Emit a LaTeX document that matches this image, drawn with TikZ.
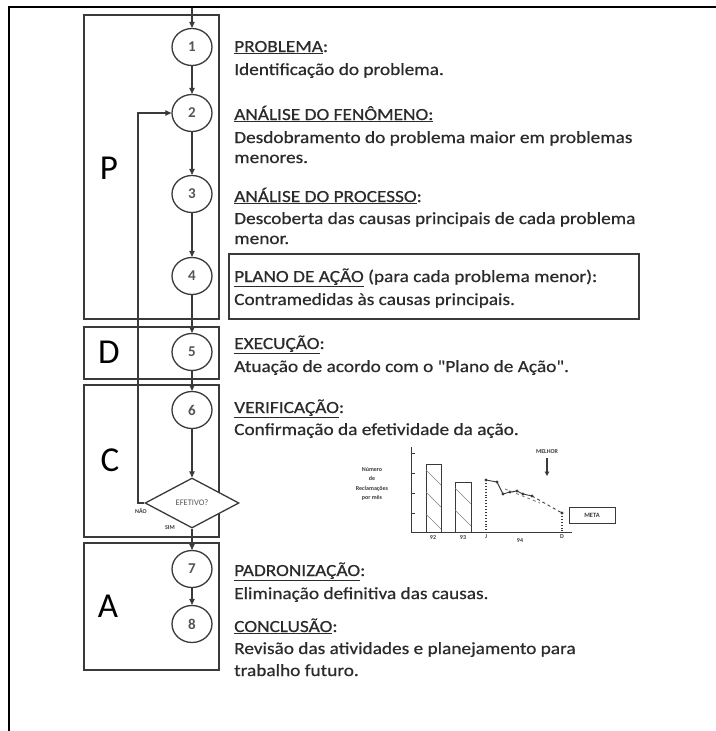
\documentclass[tikz,border=0pt]{standalone}
\usepackage{fontspec}
\setmainfont{Carlito}
\newfontfamily\bodyfont{Carlito}[FakeBold=0.6]
\usetikzlibrary{shapes.geometric,arrows.meta}
\definecolor{ink}{HTML}{3A3A3A}
\definecolor{txt}{HTML}{2B2B2B}
\definecolor{numc}{HTML}{555555}
\begin{document}
\begin{tikzpicture}[x=1pt,y=-1pt,
  stage/.style={draw=ink,line width=1.3pt,ellipse,minimum width=40pt,minimum height=37pt,inner sep=0pt,
    font=\fontsize{15}{15}\selectfont\bfseries,text=numc,fill=white},
  phasebox/.style={draw=ink,line width=1.3pt},
  flow/.style={draw=ink,line width=1.1pt,-{Triangle[length=6pt,width=5.5pt]}},
  body/.style={anchor=base west,inner sep=0pt,font=\bodyfont\fontsize{17}{17}\selectfont,text=txt,xscale=1.135},
  bigletter/.style={inner sep=0pt,font=\fontsize{35}{35}\selectfont,text=black},
  tiny/.style={inner sep=0pt,font=\fontsize{6}{6}\selectfont\bfseries,text=ink},
  chartline/.style={draw=ink,line width=0.9pt},
]
\useasboundingbox (0,0) rectangle (715,731);
% outer frame
\draw[line width=2.6pt,black] (9,731) -- (9,7) -- (716,7);

% phase boxes
\draw[phasebox] (84,15) rectangle (219,319);
\draw[phasebox] (84,327) rectangle (219,379);
\draw[phasebox] (84,385) rectangle (219,537);
\draw[phasebox] (84,543) rectangle (219,670);
\node[bigletter] (lP) at (109,168) {P};
\node[bigletter] (lD) at (109,352) {D};
\node[bigletter] (lC) at (110,460) {C};
\node[bigletter] (lA) at (108,606) {A};

% plan box
\draw[phasebox] (229,254) rectangle (639,319);

% stages
\coordinate (start) at (192,8);
\node[stage] (c1) at (192,47) {1};
\node[stage] (c2) at (192,113) {2};
\node[stage] (c3) at (192,194) {3};
\node[stage] (c4) at (192,276) {4};
\node[stage] (c5) at (192,352) {5};
\node[stage] (c6) at (192,410) {6};
\node[diamond,draw=ink,line width=1.3pt,minimum width=94pt,minimum height=50pt,inner sep=0pt,
      font=\fontsize{8.5}{8.5}\selectfont,text=numc,fill=white] (dec) at (192,503) {EFETIVO?};
\node[stage] (c7) at (192,569) {7};
\node[stage] (c8) at (192,624) {8};

\draw[flow] (start) -- (c1);
\draw[flow] (c1) -- (c2);
\draw[flow] (c2) -- (c3);
\draw[flow] (c3) -- (c4);
\draw[flow] (c4) -- (c5);
\draw[flow] (c5) -- (c6);
\draw[flow] (c6) -- (dec);
\draw[flow] (dec) -- (c7);
\draw[flow] (c7) -- (c8);
\coordinate (lb) at (138,503);
\coordinate (lt) at (138,113);
\draw[flow] (dec.west) -- (lb) -- (lt) -- (c2.west);
\node[tiny] (nao) at (141,511) {NÃO};
\node[tiny] (sim) at (170,528) {SIM};

% texts
\node[body] (t1a) at (234,52) {\underline{PROBLEMA}:};
\node[body] (t1b) at (234,75) {Identificação do problema.};
\node[body] (t2a) at (234,120) {\underline{ANÁLISE DO FENÔMENO:}};
\node[body] (t2b) at (234,143) {Desdobramento do problema maior em problemas};
\node[body] (t2c) at (234,163) {menores.};
\node[body] (t3a) at (234,202) {\underline{ANÁLISE DO PROCESSO}:};
\node[body] (t3b) at (234,224) {Descoberta das causas principais de cada problema};
\node[body] (t3c) at (234,244) {menor.};
\node[body] (t4a) at (234,282) {\underline{PLANO DE AÇÃO} (para cada problema menor):};
\node[body] (t4b) at (234,305) {Contramedidas às causas principais.};
\node[body] (t5a) at (234,349) {\underline{EXECUÇÃO}:};
\node[body] (t5b) at (234,372) {Atuação de acordo com o \symbol{34}Plano de Ação\symbol{34}.};
\node[body] (t6a) at (234,413) {\underline{VERIFICAÇÃO}:};
\node[body] (t6b) at (234,435) {Confirmação da efetividade da ação.};
\node[body] (t7a) at (234,576) {\underline{PADRONIZAÇÃO}:};
\node[body] (t7b) at (234,599) {Eliminação definitiva das causas.};
\node[body] (t8a) at (234,632) {\underline{CONCLUSÃO}:};
\node[body] (t8b) at (234,654) {Revisão das atividades e planejamento para};
\node[body] (t8c) at (234,676) {trabalho futuro.};

% chart
\draw[chartline] (411,447) -- (411,532) -- (572,532);
\foreach \yy in {453,473,493,513} \draw[chartline] (411,\yy) -- (415,\yy);
\draw[chartline] (426,532) rectangle (441,464);
\draw[chartline] (455,532) rectangle (471,482);
\begin{scope}
  \clip (426,464) rectangle (441,532);
  \foreach \s in {470,492,514} \draw[gray,line width=0.5pt] (426,\s) -- (446,\s+20);
\end{scope}
\begin{scope}
  \clip (455,482) rectangle (471,532);
  \foreach \s in {488,510} \draw[gray,line width=0.5pt] (455,\s) -- (475,\s+20);
\end{scope}
\draw[chartline,dotted,line width=1.2pt] (486,480) -- (486,532);
\draw[chartline,dotted,line width=1.2pt] (562,513) -- (562,532);
\draw[chartline] (486,480) -- (497,482) -- (503,494) -- (510,492) -- (517,491) -- (523,494) -- (532,496);
\foreach \p in {(486,480),(497,482),(503,494),(510,492),(517,491),(523,494),(532,496)}
  \fill[ink] \p circle (1.6pt);
\draw[chartline,dashed] (532,496) -- (562,513);
\draw[chartline,dashed,gray] (505,489) -- (540,503);
\fill[ink] (562,513) circle (1.6pt);
\node[tiny] (melhor) at (547,452) {MELHOR};
\coordinate (mA) at (547,458);
\coordinate (mB) at (547,476);
\draw[chartline,line width=1.2pt,-{Triangle[length=4.5pt,width=4.5pt]}] (mA) -- (mB);
\node[draw=ink,line width=0.9pt,minimum width=46pt,minimum height=16pt,inner sep=0pt,
      font=\fontsize{6.5}{6.5}\selectfont\bfseries,text=ink] (meta) at (592,515) {META};
\node[tiny] (x92) at (433,538) {92};
\node[tiny] (x93) at (463,538) {93};
\node[tiny] (xJ) at (486,537) {J};
\node[tiny] (x94) at (520,541) {94};
\node[tiny] (xD) at (562,537) {D};
\node[tiny,align=center,font=\fontsize{6}{9.5}\selectfont\bfseries] (ylab) at (372,484) {Número\\de\\Reclamações\\por mês};
\end{tikzpicture}
\end{document}
